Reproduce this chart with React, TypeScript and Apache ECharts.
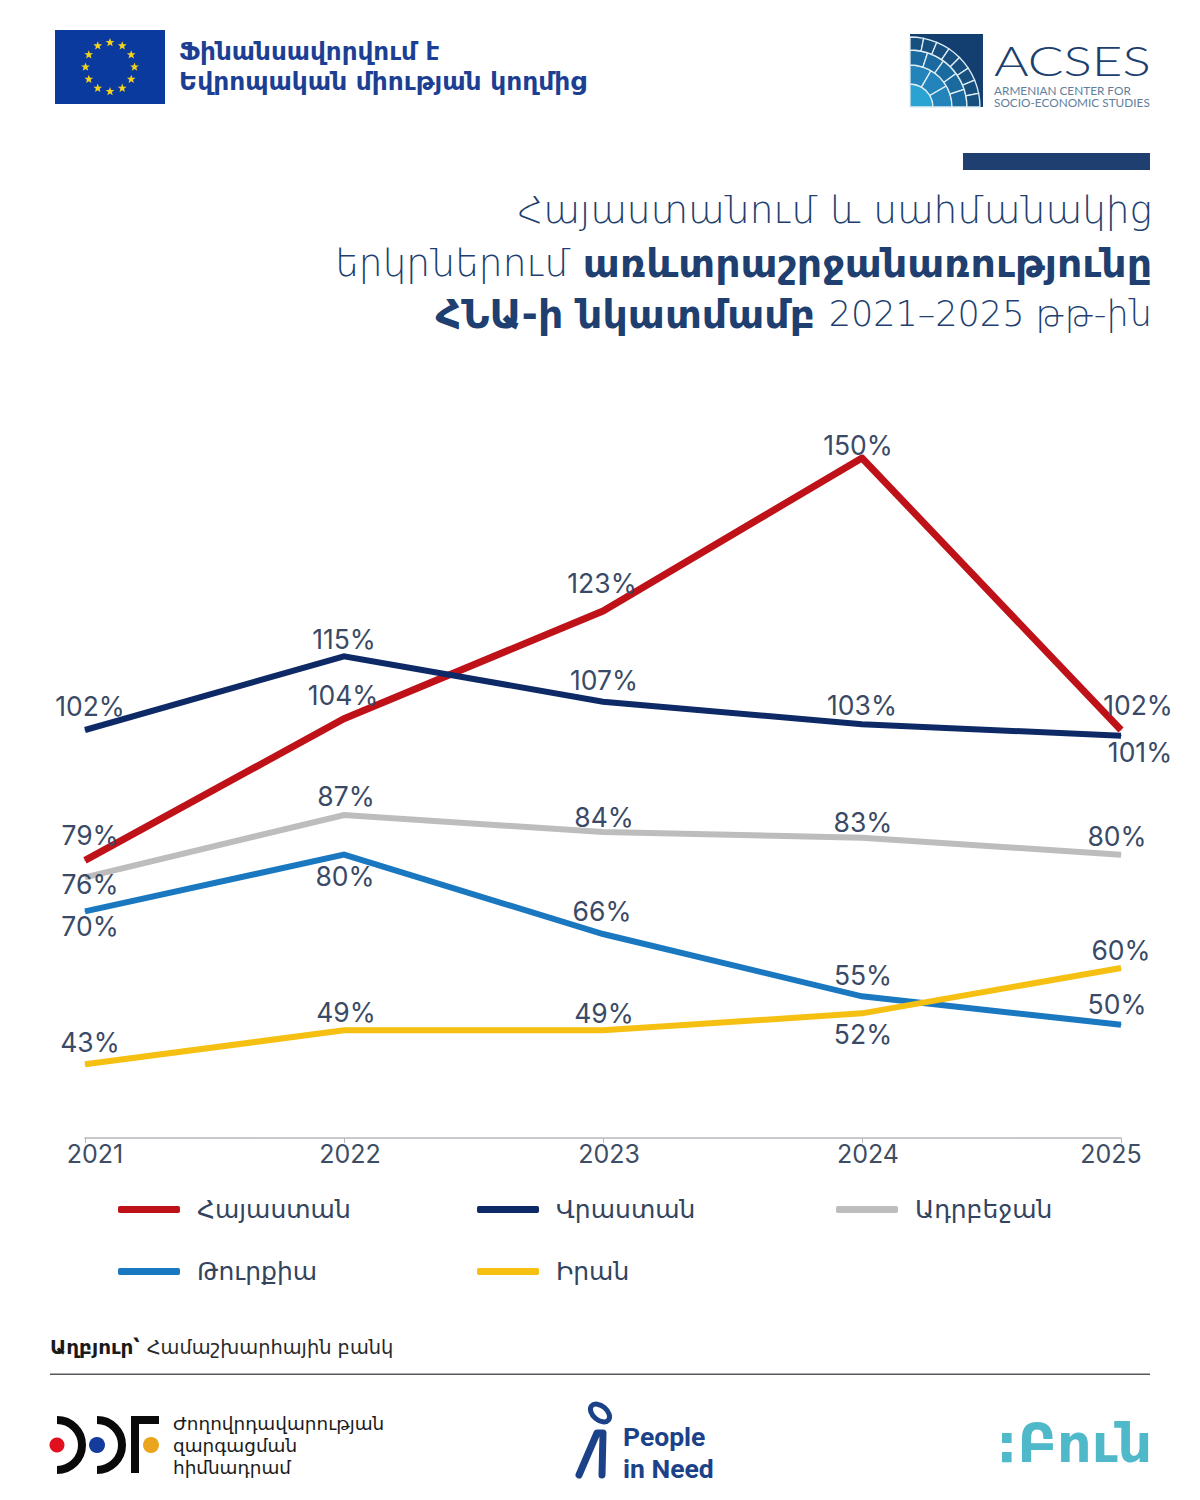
import React, { useEffect, useRef } from "react";
import * as echarts from "echarts";

const years = ["2021", "2022", "2023", "2024", "2025"];
const names = ["Հայաստան", "Վրաստան", "Ադրբեջան", "Թուրքիա", "Իրան"];
const armenia = [79, 104, 123, 150, 102];
const georgia = [102, 115, 107, 103, 101];
const azerbaijan = [76, 87, 84, 83, 80];
const turkey = [70, 80, 66, 55, 50];
const iran = [43, 49, 49, 52, 60];

const seriesValues = [armenia, georgia, azerbaijan, turkey, iran];
const colors = ["#bf1118", "#0e2a66", "#bdbdbd", "#1a78c0", "#f5c011"];
const widths = [7, 6, 6, 6, 6];
const labelOffsets = [
  [[5, -25], [-1, -24], [-1, -28], [-4, -13], [17, -25]],
  [[5, -24], [0, -17], [1, -22], [0, -19], [19, 16]],
  [[5, 7], [2, -19], [1, -15], [1, -16], [-4, -19]],
  [[5, 15], [1, 21], [-1, -23], [1, -21], [-4, -21]],
  [[5, -22], [2, -18], [1, -17], [1, 21], [0, -18]],
];
const yearPadding = [[0, 0, 0, 20], [0, 0, 0, 12], [0, 0, 0, 12], [0, 0, 0, 12], [0, 20, 0, 0]];
const legendPos = [[118, 1197], [477, 1197], [836, 1197], [118, 1259], [477, 1259]];

const ARM = "'DejaVu Sans', sans-serif";
const NAVY = "#1e3f6f";

function star(cx: number, cy: number, r: number) {
  const pts: number[][] = [];
  for (let i = 0; i < 10; i++) {
    const a = -Math.PI / 2 + (i * Math.PI) / 5;
    const rr = i % 2 === 0 ? r : r * 0.42;
    pts.push([cx + rr * Math.cos(a), cy + rr * Math.sin(a)]);
  }
  return { type: "polygon", shape: { points: pts }, style: { fill: "#f2d21c" } };
}

function euFlag() {
  const out: any[] = [
    { type: "rect", shape: { x: 55, y: 30, width: 110, height: 74 }, style: { fill: "#0b3a9e" } },
  ];
  for (let i = 0; i < 12; i++) {
    const a = (i * Math.PI) / 6;
    out.push(star(110 + 24.5 * Math.cos(a), 67 + 24.5 * Math.sin(a), 4.6));
  }
  return out;
}

function acsesMark() {
  const cx = 910, cy = 107;
  const rings = [
    { r0: 0, r: 23, n: 1, c: "#2aa3d2" },
    { r0: 23, r: 42, n: 3, c: "#2384bc" },
    { r0: 42, r: 57, n: 5, c: "#1b6a9f" },
    { r0: 57, r: 70, n: 8, c: "#174f7e" },
  ];
  const out: any[] = [
    { type: "rect", shape: { x: 910, y: 34, width: 73, height: 73 }, style: { fill: "#123f70" } },
  ];
  rings.forEach((ring) => {
    for (let i = 0; i < ring.n; i++) {
      out.push({
        type: "sector",
        shape: {
          cx, cy, r: ring.r, r0: ring.r0,
          startAngle: -Math.PI / 2 + (i * Math.PI) / 2 / ring.n,
          endAngle: -Math.PI / 2 + ((i + 1) * Math.PI) / 2 / ring.n,
          clockwise: true,
        },
        style: { fill: ring.c, stroke: "#dfeef5", lineWidth: 1.3 },
      });
    }
  });
  return out;
}

function ddfMark() {
  const arc = (cx: number) => ({
    type: "arc",
    shape: { cx, cy: 1445, r: 25, startAngle: -Math.PI / 2, endAngle: Math.PI / 2, clockwise: true },
    style: { stroke: "#0a0a0a", lineWidth: 8, fill: "none" },
  });
  return [
    { type: "circle", shape: { cx: 57, cy: 1445, r: 7.5 }, style: { fill: "#e2101f" } },
    { type: "circle", shape: { cx: 97, cy: 1445, r: 8 }, style: { fill: "#143c9c" } },
    { type: "circle", shape: { cx: 151, cy: 1445, r: 8 }, style: { fill: "#eaa51c" } },
    arc(57), arc(97),
    { type: "rect", shape: { x: 131, y: 1416, width: 8, height: 57 }, style: { fill: "#0a0a0a" } },
    { type: "rect", shape: { x: 131, y: 1416, width: 28, height: 8 }, style: { fill: "#0a0a0a" } },
  ];
}

function pinMark() {
  return [
    {
      type: "ellipse", x: 600, y: 1413, rotation: -0.7,
      shape: { cx: 0, cy: 0, rx: 11, ry: 7 },
      style: { stroke: "#1b4289", lineWidth: 5, fill: "none" },
    },
    {
      type: "polyline",
      shape: { points: [[579, 1475], [597, 1433], [603, 1433], [602, 1475]] },
      style: { stroke: "#1b4289", lineWidth: 7, fill: "none", lineCap: "round", lineJoin: "round" },
    },
  ];
}

function txt(text: string, x: number, y: number, size: number, fill: string, extra: any = {}) {
  return {
    type: "text",
    style: {
      text, x, y, fill, fontSize: size, fontFamily: ARM,
      align: "left", verticalAlign: "middle", ...extra,
    },
  };
}

function titleLine(text: string, y: number) {
  return {
    type: "text",
    style: {
      text, x: 1152, y, align: "right", verticalAlign: "middle",
      fontFamily: ARM, fontSize: 37,
      rich: {
        l: { fontFamily: "'DejaVu Sans Light', " + ARM, fontWeight: 200, fontSize: 37.5, fill: NAVY },
        n: { fontFamily: "'DejaVu Sans Light', " + ARM, fontWeight: 200, fontSize: 35, fill: NAVY },
        b: { fontFamily: ARM, fontWeight: 700, fontSize: 39.5, fill: NAVY },
      },
    },
  };
}

export default function App() {
  const ref = useRef<HTMLDivElement>(null);
  useEffect(() => {
    const chart = echarts.init(ref.current!, undefined, { renderer: "svg" });
    chart.setOption({
      animation: false,
      backgroundColor: "#ffffff",
      grid: { left: 85, top: 458, width: 1036, height: 680, containLabel: false },
      xAxis: {
        type: "category",
        boundaryGap: false,
        data: years.map((y, i) => ({ value: y, textStyle: { padding: yearPadding[i] } })),
        axisLine: { lineStyle: { color: "#b4b7bb", width: 1.5 } },
        axisTick: { show: true, length: 5, lineStyle: { color: "#b4b7bb" } },
        axisLabel: {
          interval: 0, margin: 3, fontSize: 25, color: "#3d4d63",
          fontFamily: "Inter, sans-serif", hideOverlap: false,
        },
      },
      yAxis: { type: "value", min: 30, max: 150, show: false, splitLine: { show: false } },
      legend: names.map((n, i) => ({
        data: [n],
        left: legendPos[i][0],
        top: legendPos[i][1],
        padding: 0,
        selectedMode: false,
        icon: "roundRect",
        itemWidth: 62,
        itemHeight: 7,
        textStyle: {
          fontFamily: ARM, fontSize: 25, color: "#33445f",
          padding: [0, 0, 0, 12],
        },
      })),
      series: names.map((n, s) => ({
        name: n,
        type: "line",
        data: seriesValues[s].map((v, i) => ({
          value: v,
          label: { offset: labelOffsets[s][i] },
        })),
        color: colors[s],
        lineStyle: { color: colors[s], width: widths[s], cap: "butt", join: "miter" },
        itemStyle: { color: colors[s] },
        symbol: "circle",
        symbolSize: 1,
        smooth: false,
        label: {
          show: true,
          position: "inside",
          formatter: "{c}%",
          fontFamily: "Inter, sans-serif",
          fontSize: 26.5,
          color: "#3a4a66",
          align: "center",
          verticalAlign: "middle",
        },
      })),
      graphic: [
        {
          type: "group",
          silent: true,
          children: [
            ...euFlag(),
            txt("Ֆինանսավորվում է", 179, 51, 24.7, "#1c3f94", { fontWeight: 700 }),
            txt("Եվրոպական միության կողմից", 179, 81, 24.9, "#1c3f94", { fontWeight: 700 }),
            ...acsesMark(),
            {
              type: "text", x: 994, y: 60, scaleX: 1.29,
              style: {
                text: "ACSES", x: 0, y: 0, fill: "#1d3f6e", fontSize: 41,
                fontFamily: "Lato, sans-serif", fontWeight: 300, align: "left", verticalAlign: "middle",
              },
            },
            txt("ARMENIAN CENTER FOR", 994, 90, 11.8, "#5f7f9d", { fontFamily: "Lato, sans-serif" }),
            txt("SOCIO-ECONOMIC STUDIES", 994, 102, 11.8, "#5f7f9d", { fontFamily: "Lato, sans-serif" }),
            { type: "rect", shape: { x: 963, y: 153, width: 187, height: 17 }, style: { fill: NAVY } },
            titleLine("{l|Հայաստանում և սահմանակից}", 210),
            titleLine("{l|երկրներում }{b|առևտրաշրջանառությունը}", 263),
            titleLine("{b|ՀՆԱ-ի նկատմամբ }{n|2021–2025 թթ-ին}", 314),
            {
              type: "text",
              style: {
                text: "{b|Աղբյուր՝ }{l|Համաշխարհային բանկ}",
                x: 50, y: 1347, verticalAlign: "middle", align: "left",
                rich: {
                  b: { fontFamily: ARM, fontWeight: 700, fontSize: 20, fill: "#1a1a1a" },
                  l: { fontFamily: ARM, fontSize: 19.4, fill: "#2a2a2a" },
                },
              },
            },
            { type: "rect", shape: { x: 50, y: 1373.5, width: 1100, height: 1.5 }, style: { fill: "#55585c" } },
            ...ddfMark(),
            txt("Ժողովրդավարության", 173, 1423, 18.4, "#1c1c1c"),
            txt("զարգացման", 173, 1445, 18.4, "#1c1c1c"),
            txt("հիմնադրամ", 173, 1467, 18.4, "#1c1c1c"),
            ...pinMark(),
            txt("People", 623, 1436, 26.5, "#1b4289", { fontFamily: "Roboto, sans-serif", fontWeight: 700 }),
            txt("in Need", 623, 1468, 26.5, "#1b4289", { fontFamily: "Roboto, sans-serif", fontWeight: 700 }),
            txt(":Բուն", 996, 1443, 54, "#4fb9c9", { fontWeight: 700 }),
          ],
        },
      ],
    });
    return () => chart.dispose();
  }, []);
  return <div ref={ref} style={{ position: "absolute", left: 0, top: 0, width: 1200, height: 1500 }} />;
}
